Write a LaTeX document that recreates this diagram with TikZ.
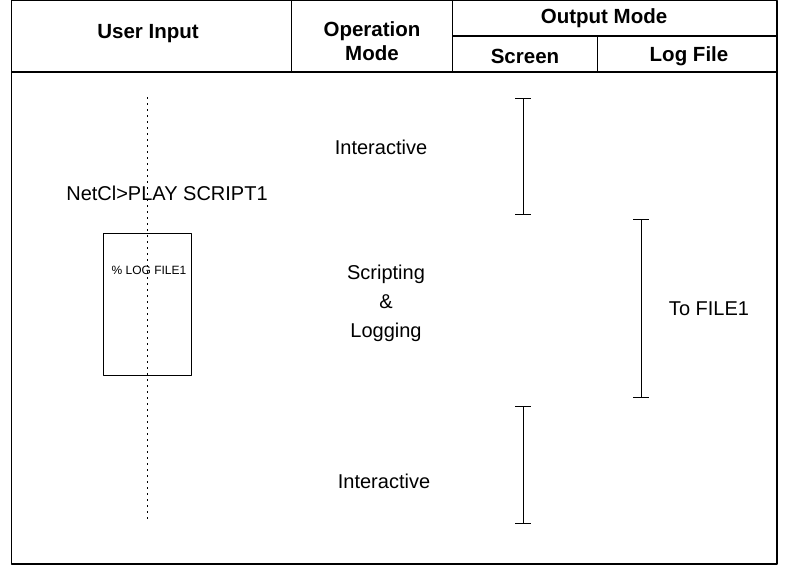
\documentclass[tikz,border=0pt]{standalone}
\usepackage{fontspec}
\setmainfont{Liberation Sans}
\begin{document}
\begin{tikzpicture}[x=1pt,y=-1pt,line join=round,font=\fontsize{20}{24}\selectfont,
	head/.style={font=\fontsize{20.5}{24}\selectfont\bfseries,align=center},
	txt/.style={align=center}]
	\useasboundingbox (0,0) rectangle (789,565);
	%Khung bang
	\path (11.5,0.5) coordinate (TL) (777,564) coordinate (BR)
	(291.5,0.5) coordinate (C1) (452.5,0.5) coordinate (C2) (597.5,36) coordinate (C3);
	\draw[line width=1.3pt] (TL) rectangle (BR);
	\draw[line width=1.3pt] (11.5,72)--(777,72) (C1)--(291.5,72) (C2)--(452.5,72)
	(452.5,36)--(777,36) (C3)--(597.5,72);
	%Tieu de
	\node[head] (ui) at (148,34) {User Input};
	\node[head] (om) at (372,41) {Operation\\Mode};
	\node[head] (out) at (604,18) {Output Mode};
	\node[head] (scr) at (525,56) {Screen};
	\node[head] (log) at (689,56) {Log File};
	%Cot nhap
	\draw[line width=1pt,dash pattern=on 1.5pt off 4.5pt] (147,97)--(147,522);
	\node (cmd) at (167,193) {NetCl>PLAY SCRIPT1};
	\draw[line width=1pt] (103,233) rectangle (191,375);
	\node[font=\fontsize{12}{14}\selectfont] (lf) at (149,270) {\% LOG FILE1};
	%Che do
	\node[txt] (i1) at (381,147) {Interactive};
	\node[txt,font=\fontsize{20}{29}\selectfont] (sl) at (386,303) {Scripting\\\&\\Logging};
	\node[txt] (i2) at (384,481) {Interactive};
	%Vach
	\foreach \x/\a/\b in {523/98/214,641/219/397,523/406/523}{
	\draw[line width=1pt] (\x-8,\a)--(\x+8,\a) (\x,\a)--(\x,\b) (\x-8,\b)--(\x+8,\b);}
	\node (tf) at (709,309) {To FILE1};
\end{tikzpicture}
\end{document}
